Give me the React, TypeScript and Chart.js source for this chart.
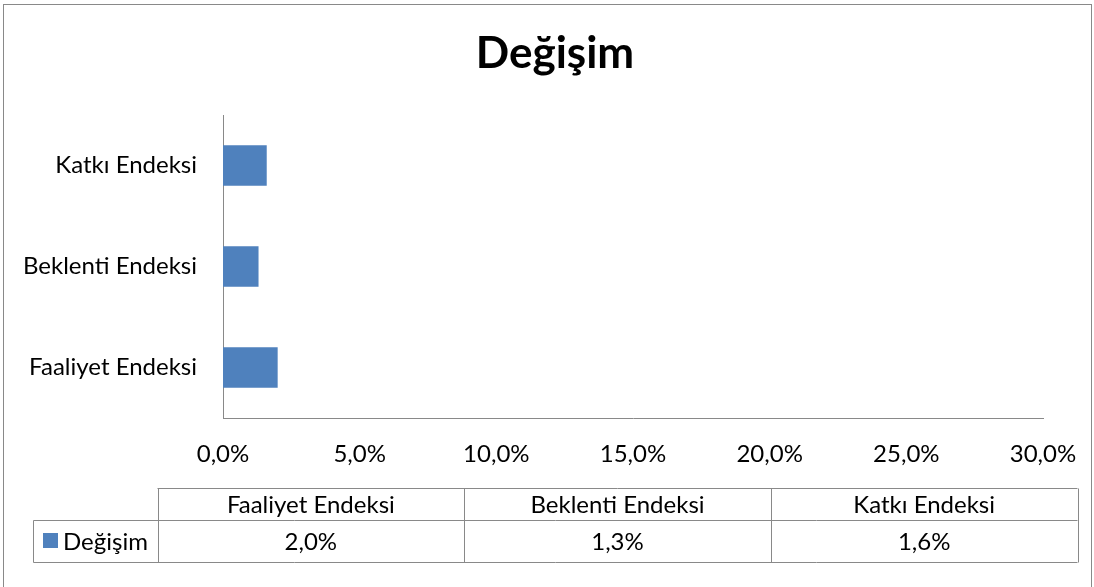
import React, { useEffect, useRef } from "react";
import { Chart, registerables } from "chart.js";

Chart.register(...registerables);

const categories = ["Faaliyet Endeksi", "Beklenti Endeksi", "Katkı Endeksi"];
const seriesName = "Değişim";
const values = [2.0, 1.3, 1.6];
const xMin = 0;
const xMax = 30;
const xStep = 5;
const titleText = "Değişim";

const FONT = "Lato, 'Open Sans', sans-serif";
const BAR = "#4F81BD";
const GRAY = "#898989";

const fmt = (v: number) => v.toFixed(1).replace(".", ",") + "%";

const decorPlugin = {
  id: "decor",
  beforeDraw(chart: any) {
    const ctx = chart.ctx;
    ctx.save();
    ctx.fillStyle = "#fff";
    ctx.fillRect(0, 0, chart.width, chart.height);
    ctx.restore();
  },
  afterDraw(chart: any) {
    const ctx = chart.ctx;
    ctx.save();
    // frame
    ctx.strokeStyle = GRAY;
    ctx.lineWidth = 1;
    ctx.strokeRect(3.5, 4.5, 1088, 700);
    // title
    ctx.fillStyle = "#000";
    ctx.font = `bold 44px ${FONT}`;
    ctx.textAlign = "center";
    ctx.textBaseline = "alphabetic";
    ctx.fillText(titleText, 555, 68);

    // data table
    const colL = 157.5;
    const colR = 1077.5;
    const rowT = 488.5;
    const rowM = 520.5;
    const rowB = 562.5;
    const legL = 33.5;
    const n = categories.length;
    const cw = (colR - colL) / n;
    ctx.strokeStyle = GRAY;
    ctx.beginPath();
    ctx.moveTo(colL, rowT);
    ctx.lineTo(colR, rowT);
    ctx.moveTo(legL, rowM);
    ctx.lineTo(colR, rowM);
    ctx.moveTo(legL, rowB);
    ctx.lineTo(colR, rowB);
    ctx.moveTo(legL, rowM);
    ctx.lineTo(legL, rowB);
    for (let i = 0; i <= n; i++) {
      const x = Math.round(colL + i * cw) + 0.5;
      ctx.moveTo(x, rowT);
      ctx.lineTo(x, rowB);
    }
    ctx.stroke();

    ctx.font = `24px ${FONT}`;
    ctx.fillStyle = "#000";
    ctx.textAlign = "center";
    ctx.textBaseline = "middle";
    for (let i = 0; i < n; i++) {
      const cx = colL + (i + 0.5) * cw;
      ctx.fillText(categories[i], cx, (rowT + rowM) / 2 + 1);
      ctx.fillText(fmt(values[i]), cx, (rowM + rowB) / 2 + 1);
    }
    // legend key
    ctx.fillStyle = BAR;
    ctx.fillRect(43, 533, 15, 15);
    ctx.fillStyle = "#000";
    ctx.textAlign = "left";
    ctx.fillText(seriesName, 63, (rowM + rowB) / 2 + 1);
    ctx.restore();
  },
};

export default function App() {
  const ref = useRef<HTMLCanvasElement>(null);
  useEffect(() => {
    if (!ref.current) return;
    const chart = new Chart(ref.current, {
      type: "bar",
      data: {
        labels: categories,
        datasets: [
          {
            label: seriesName,
            data: values,
            backgroundColor: BAR,
            barPercentage: 0.4,
            categoryPercentage: 1,
          },
        ],
      },
      options: {
        indexAxis: "y",
        animation: false,
        responsive: false,
        layout: { padding: { top: 115, right: 51, left: 0, bottom: 0 } },
        plugins: {
          legend: { display: false },
          title: { display: false },
          tooltip: { enabled: false },
        },
        scales: {
          x: {
            min: xMin,
            max: xMax,
            grid: { display: false, drawTicks: false },
            border: { display: true, color: GRAY, width: 1 },
            ticks: {
              stepSize: xStep,
              padding: 22,
              color: "#000",
              font: { family: FONT, size: 24 },
              maxRotation: 0,
              callback: (v: any) => fmt(Number(v)),
            },
            afterFit: (s: any) => {
              s.height = 169;
              s.paddingLeft = 0;
              s.paddingRight = 0;
            },
          },
          y: {
            reverse: true,
            grid: { display: false, drawTicks: false },
            border: { display: true, color: GRAY, width: 1 },
            ticks: {
              padding: 26,
              color: "#000",
              font: { family: FONT, size: 24 },
            },
            afterFit: (s: any) => {
              s.width = 223;
              s.paddingTop = 0;
              s.paddingBottom = 0;
            },
          },
        },
      },
      plugins: [decorPlugin],
    });
    return () => chart.destroy();
  }, []);
  return (
    <div style={{ position: "absolute", left: 0, top: 0, width: 1094, height: 587 }}>
      <canvas ref={ref} width={1094} height={587} style={{ display: "block" }} />
    </div>
  );
}
